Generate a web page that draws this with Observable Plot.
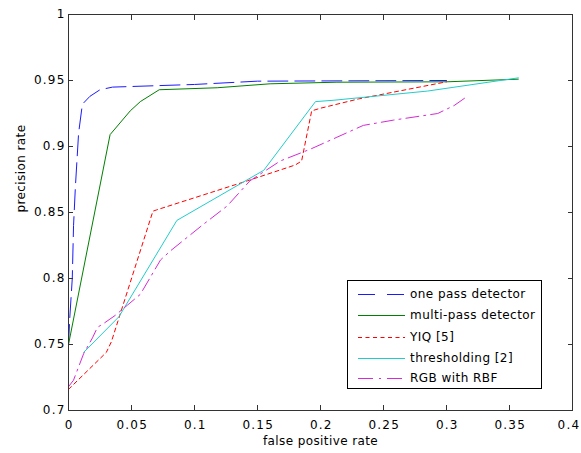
<!DOCTYPE html>
<html><head><meta charset="utf-8">
<script src="https://cdn.jsdelivr.net/npm/d3@7"></script>
<script src="https://cdn.jsdelivr.net/npm/@observablehq/plot@0.6"></script>
<style>
body{margin:0;background:#fff;}
#wrap{position:relative;width:581px;height:453px;font-family:"DejaVu Sans",sans-serif;overflow:hidden;}
#legend{position:absolute;left:347px;top:280px;width:195px;height:109px;border:1px solid #000;background:#fff;box-sizing:border-box;font-size:12px;letter-spacing:0.45px;color:#000;}
#legend .row{position:absolute;left:0;height:14px;display:flex;align-items:center;white-space:nowrap;}
#legend svg{margin-left:10px;margin-right:5px;}
</style></head><body><div id="wrap"></div>
<script>
const seriesNames = ["one pass detector", "multi-pass detector", "YIQ [5]", "thresholding [2]", "RGB with RBF"];

const onePassFpr  = [0, 0.001, 0.003, 0.004, 0.0055, 0.008, 0.011, 0.017, 0.025, 0.035, 0.1, 0.15, 0.3];
const onePassPrec = [0.75, 0.77, 0.80, 0.84, 0.87, 0.91, 0.932, 0.938, 0.943, 0.945, 0.947, 0.9495, 0.95];

const multiPassFpr  = [0, 0.033, 0.049, 0.057, 0.072, 0.118, 0.16, 0.213, 0.3, 0.357];
const multiPassPrec = [0.75, 0.909, 0.927, 0.934, 0.943, 0.9445, 0.9475, 0.9487, 0.949, 0.951];

const yiqFpr  = [0, 0.03, 0.034, 0.067, 0.07, 0.142, 0.18, 0.185, 0.193, 0.2, 0.23, 0.3];
const yiqPrec = [0.716, 0.744, 0.752, 0.851, 0.852, 0.874, 0.886, 0.889, 0.927, 0.929, 0.936, 0.949];

const threshFpr  = [0.012, 0.04, 0.086, 0.155, 0.196, 0.21, 0.285, 0.357];
const threshPrec = [0.744, 0.771, 0.844, 0.882, 0.934, 0.935, 0.942, 0.952];

const rgbFpr  = [0, 0.004, 0.012, 0.019, 0.023, 0.028, 0.037, 0.047, 0.057, 0.073, 0.081, 0.107, 0.126, 0.144, 0.168, 0.192, 0.213, 0.234, 0.258, 0.279, 0.293, 0.306, 0.315];
const rgbPrec = [0.718, 0.723, 0.743, 0.755, 0.763, 0.766, 0.772, 0.78, 0.788, 0.814, 0.821, 0.841, 0.855, 0.874, 0.889, 0.898, 0.907, 0.916, 0.92, 0.923, 0.925, 0.931, 0.937];

const xTicks = [0, 0.05, 0.1, 0.15, 0.2, 0.25, 0.3, 0.35, 0.4];
const yTicks = [0.7, 0.75, 0.8, 0.85, 0.9, 0.95, 1];
const xTitle = "false positive rate";
const yTitle = "precision rate";

const colors = ["#1a1aff", "#008000", "#ff0000", "#22cccc", "#d52ad5"];
const dashes = ["20,7", null, "4,3.5", null, "13,5,2,5"];
const legendDashes = ["17,12", null, "4,3.5", null, "15,6,2,6"];

const series = [
  [onePassFpr, onePassPrec],
  [multiPassFpr, multiPassPrec],
  [yiqFpr, yiqPrec],
  [threshFpr, threshPrec],
  [rgbFpr, rgbPrec]
].map(([xs, ys], i) => xs.map((x, j) => ({fpr: x, prec: ys[j], name: seriesNames[i]})));

const fmt = d => String(+d.toFixed(2));

const lineMarks = series.map((data, i) => Plot.line(data, {
  x: "fpr", y: "prec", stroke: colors[i], strokeWidth: 1,
  strokeDasharray: dashes[i] || undefined
}));

const chart = Plot.plot({
  width: 581, height: 453,
  marginLeft: 68, marginRight: 9, marginTop: 14, marginBottom: 43,
  style: {fontFamily: "DejaVu Sans, sans-serif", fontSize: "12px", letterSpacing: "0.4px", color: "#000", background: "#fff", overflow: "visible"},
  x: {domain: [0, 0.4]},
  y: {domain: [0.7, 1]},
  marks: [
    ...lineMarks,
    Plot.axisX({ticks: xTicks, tickSize: 0, tickPadding: 10, tickFormat: fmt, label: null, dx: 0.75}),
    Plot.axisY({ticks: yTicks, tickSize: 0, tickPadding: 3, tickFormat: fmt, label: null}),
    Plot.axisX({anchor: "bottom", ticks: xTicks, tickSize: -5, tickFormat: () => "", label: null, stroke: "#333"}),
    Plot.axisX({anchor: "top", ticks: xTicks, tickSize: -5, tickFormat: () => "", label: null, stroke: "#333"}),
    Plot.axisY({anchor: "left", ticks: yTicks, tickSize: -5, tickFormat: () => "", label: null, stroke: "#333"}),
    Plot.axisY({anchor: "right", ticks: yTicks, tickSize: -5, tickFormat: () => "", label: null, stroke: "#333"}),
    Plot.frame({stroke: "#333"}),
    Plot.text([xTitle], {frameAnchor: "bottom", dy: 34, text: d => d, fill: "#000"}),
    Plot.text([yTitle], {frameAnchor: "left", dx: -47, rotate: -90, text: d => d, fill: "#000"})
  ]
});

chart.querySelectorAll('[aria-label$="tick label"]').forEach(g => { g.style.letterSpacing = "1.2px"; });
const xLabelGroup = chart.querySelector('[aria-label="x-axis tick label"]');
if (xLabelGroup) {
  const texts = xLabelGroup.querySelectorAll("text");
  const last = texts[texts.length - 1];
  if (last) { last.setAttribute("text-anchor", "end"); last.setAttribute("dx", "7"); }
}

const wrap = document.getElementById("wrap");
wrap.appendChild(chart);

const legend = document.createElement("div");
legend.id = "legend";
const rowTops = [6, 27, 49, 70, 90];
seriesNames.forEach((name, i) => {
  const row = document.createElement("div");
  row.className = "row";
  row.style.top = rowTops[i] + "px";
  const ns = "http://www.w3.org/2000/svg";
  const svg = document.createElementNS(ns, "svg");
  svg.setAttribute("width", "47"); svg.setAttribute("height", "14");
  const ln = document.createElementNS(ns, "line");
  ln.setAttribute("x1", "0"); ln.setAttribute("x2", "47");
  ln.setAttribute("y1", "7.5"); ln.setAttribute("y2", "7.5");
  ln.setAttribute("stroke", colors[i]); ln.setAttribute("stroke-width", "1");
  if (legendDashes[i]) ln.setAttribute("stroke-dasharray", legendDashes[i]);
  svg.appendChild(ln);
  row.appendChild(svg);
  const t = document.createElement("span");
  t.textContent = name;
  row.appendChild(t);
  legend.appendChild(row);
});
wrap.appendChild(legend);
</script>
</body></html>
